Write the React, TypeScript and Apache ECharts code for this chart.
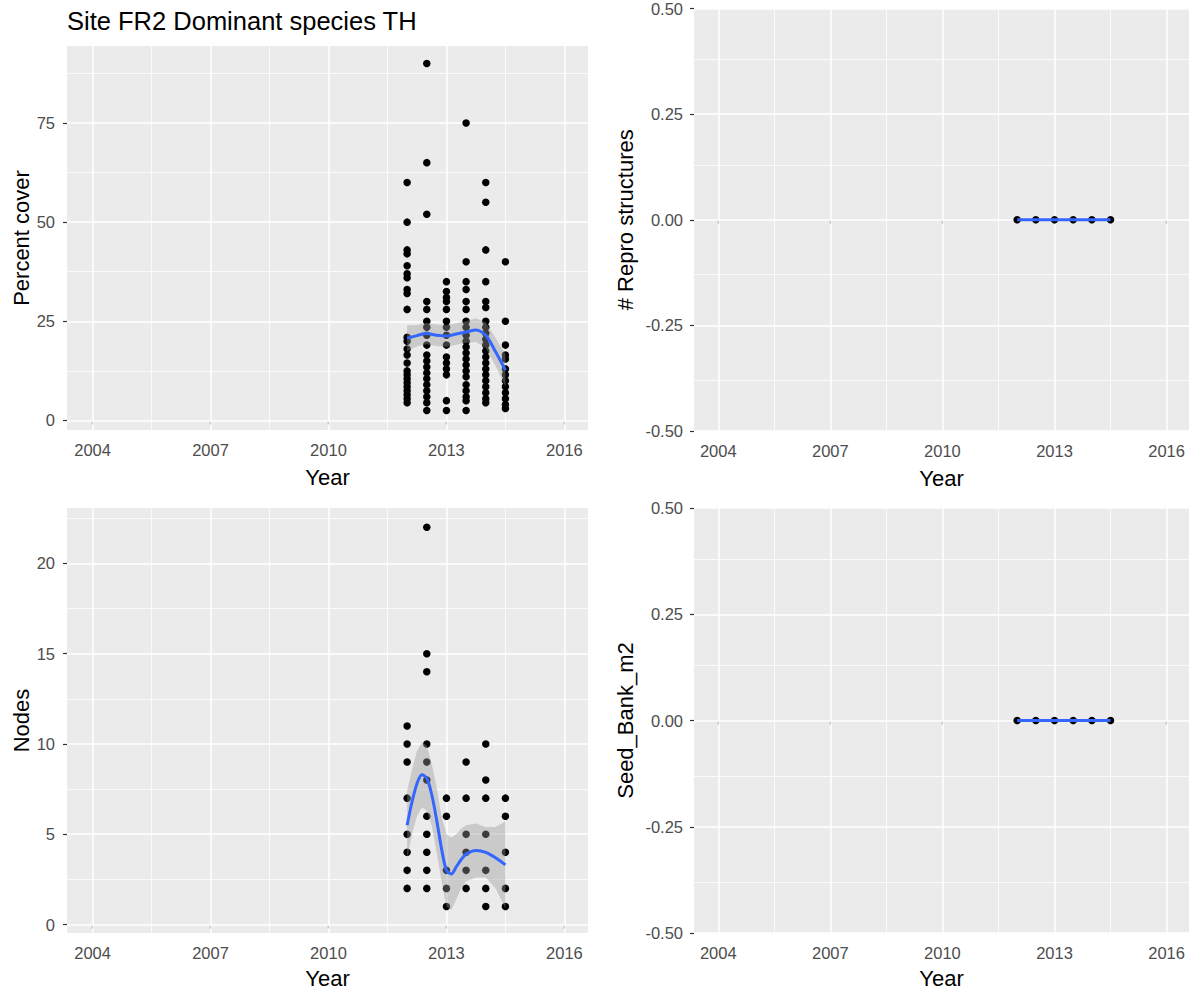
import React, { useEffect, useRef } from "react";
import * as echarts from "echarts";

// ---------- data ----------
const YEARS = [2012, 2012.5, 2013, 2013.5, 2014, 2014.5];
const X_TICKS = [2004, 2007, 2010, 2013, 2016];
const X_MINOR = [2005.5, 2008.5, 2011.5, 2014.5];

// Percent cover, one list per survey
const cover2012 = [60, 50, 43, 42, 39, 37, 36, 33, 32, 28, 21, 20, 18, 16.5, 14.5, 12.5, 11.5, 10.5, 9.5, 8.5, 7.5, 6.5, 5.5, 4.5];
const cover2012b = [90, 65, 52, 30, 28, 25, 23.5, 21.5, 19, 16.5, 15, 13.5, 12, 10.5, 9, 7.5, 6, 4.5, 2.5];
const cover2013 = [35, 32.5, 31, 30, 28, 25, 23.5, 21.5, 19, 16, 14.5, 13, 11.5, 5, 2.5];
const cover2013b = [75, 40, 35, 33, 30, 28, 25, 23.5, 21.5, 20, 18.5, 17, 15.5, 14, 12.5, 11, 9, 7.5, 6, 5, 2.5];
const cover2014 = [60, 55, 43, 35, 30, 28.5, 25, 23.5, 22, 20.5, 19, 17.5, 16, 14.5, 13, 11.5, 10, 8.5, 7, 5.5, 4.5];
const cover2014b = [40, 25, 19, 16.5, 15.5, 13, 11.5, 10, 8.5, 7, 5.5, 4, 3];
const COVER_COLUMNS = [cover2012, cover2012b, cover2013, cover2013b, cover2014, cover2014b];
const COVER_TICKS = [0, 25, 50, 75];
const COVER_MINOR = [12.5, 37.5, 62.5, 87.5];

// Loess fit for percent cover
const COVER_FIT_X = [2012, 2012.25, 2012.5, 2012.75, 2013, 2013.25, 2013.5, 2013.75, 2014, 2014.25, 2014.5];
const coverFit = [20.7, 21.4, 21.9, 21.5, 21.3, 21.8, 22.3, 22.8, 21.5, 17.3, 12.7];
const coverLo = [17.5, 18.7, 19.2, 18.8, 18.6, 19.1, 19.6, 19.8, 18.3, 13.8, 8.5];
const coverHi = [24.0, 24.1, 24.6, 24.2, 24.0, 24.5, 25.0, 25.8, 24.7, 20.8, 16.7];

// Nodes
const nodes2012 = [11, 10, 9, 7, 5, 4, 3, 2];
const nodes2012b = [22, 15, 14, 10, 9, 8, 6, 5, 4, 3, 2];
const nodes2013 = [7, 6, 3, 2, 1];
const nodes2013b = [9, 7, 5, 4, 3, 2];
const nodes2014 = [10, 8, 7, 5, 3, 2, 1];
const nodes2014b = [7, 6, 4, 2, 1];
const NODE_COLUMNS = [nodes2012, nodes2012b, nodes2013, nodes2013b, nodes2014, nodes2014b];
const NODE_TICKS = [0, 5, 10, 15, 20];
const NODE_MINOR = [2.5, 7.5, 12.5, 17.5, 22.5];

const NODE_FIT_X = [2012, 2012.125, 2012.25, 2012.375, 2012.5, 2012.625, 2012.75, 2012.875, 2013, 2013.125, 2013.25, 2013.375, 2013.5, 2013.75, 2014, 2014.25, 2014.5];
const nodeFit = [5.5, 6.8, 7.8, 8.3, 8.1, 7.2, 5.8, 4.2, 3.0, 2.8, 3.2, 3.6, 3.9, 4.1, 4.0, 3.7, 3.3];
const nodeLo = [3.6, 5.0, 6.0, 6.5, 6.3, 5.5, 4.0, 2.4, 1.0, 0.8, 1.4, 2.0, 2.4, 2.6, 2.6, 2.0, 0.9];
const nodeHi = [7.4, 8.6, 9.6, 10.1, 9.9, 8.9, 7.6, 6.0, 5.0, 4.8, 5.0, 5.3, 5.5, 5.6, 5.4, 5.4, 5.7];

// Repro structures and seed bank: all zero
const reproValues = [0, 0, 0, 0, 0, 0];
const seedValues = [0, 0, 0, 0, 0, 0];
const ZERO_TICKS = [-0.5, -0.25, 0, 0.25, 0.5];
const ZERO_MINOR = [-0.375, -0.125, 0.125, 0.375];

// ---------- styling ----------
const FONT = "'Liberation Sans', Arial, sans-serif";
const TICK_COLOR = "#4D4D4D";
const PANEL_BG = "#EBEBEB";
const BLUE = "#3366FF";
const TICK_FONT = 16.5;
const NAME_FONT = 22;

const GRIDS = [
  { left: 67, top: 46, width: 521, height: 384 },
  { left: 694, top: 8, width: 495, height: 423 },
  { left: 67, top: 508, width: 521, height: 425 },
  { left: 694, top: 508, width: 495, height: 425 },
];

function columnsToPoints(cols: number[][]) {
  const pts: number[][] = [];
  cols.forEach((col, i) => col.forEach((v) => pts.push([YEARS[i], v])));
  return pts;
}

function xAxisFor(gi: number, gap: number) {
  return {
    type: "value",
    gridIndex: gi,
    min: 2003.35,
    max: 2016.6,
    axisLine: { show: false },
    splitLine: { show: false },
    axisTick: { show: true, customValues: X_TICKS, length: 4, lineStyle: { color: "#333", width: 1.2 } },
    axisLabel: {
      customValues: X_TICKS,
      formatter: (v: number) => String(v),
      color: TICK_COLOR,
      fontSize: TICK_FONT,
      fontFamily: FONT,
      margin: 11,
    },
    name: "Year",
    nameLocation: "middle",
    nameGap: gap,
    nameTextStyle: { color: "#000", fontSize: NAME_FONT, fontFamily: FONT },
  };
}

function yAxisFor(gi: number, min: number, max: number, ticks: number[], name: string, gap: number, fmt: (v: number) => string, margin: number) {
  return {
    type: "value",
    gridIndex: gi,
    min,
    max,
    axisLine: { show: false },
    splitLine: { show: false },
    axisTick: { show: true, customValues: ticks, length: 4, lineStyle: { color: "#333", width: 1.2 } },
    axisLabel: { customValues: ticks, formatter: fmt, color: TICK_COLOR, fontSize: TICK_FONT, fontFamily: FONT, margin },
    name,
    nameLocation: "middle",
    nameGap: gap,
    nameTextStyle: { color: "#000", fontSize: NAME_FONT, fontFamily: FONT },
  };
}

function gridLines(gi: number, yMajor: number[], yMinor: number[]) {
  const major = { type: "solid", color: "#FFFFFF", width: 1.5 };
  const minor = { type: "solid", color: "#FFFFFF", width: 0.75 };
  const data: any[] = [];
  X_MINOR.forEach((v) => data.push({ xAxis: v, lineStyle: minor }));
  yMinor.forEach((v) => data.push({ yAxis: v, lineStyle: minor }));
  X_TICKS.forEach((v) => data.push({ xAxis: v, lineStyle: major }));
  yMajor.forEach((v) => data.push({ yAxis: v, lineStyle: major }));
  return {
    type: "line",
    xAxisIndex: gi,
    yAxisIndex: gi,
    data: [],
    silent: true,
    markLine: {
      z: 1,
      silent: true,
      symbol: "none",
      label: { show: false },
      emphasis: { disabled: true },
      animation: false,
      data,
    },
  };
}

function scatterFor(gi: number, pts: number[][]) {
  return {
    type: "scatter",
    xAxisIndex: gi,
    yAxisIndex: gi,
    data: pts,
    symbol: "circle",
    symbolSize: 7.5,
    itemStyle: { color: "#000", opacity: 1 },
    z: 2,
    silent: true,
  };
}

function ribbonFor(gi: number, xs: number[], lo: number[], hi: number[]) {
  return {
    type: "custom",
    xAxisIndex: gi,
    yAxisIndex: gi,
    z: 3,
    silent: true,
    data: [[xs[0], lo[0]]],
    encode: { x: 0, y: 1 },
    renderItem: (params: any, api: any) => {
      if (params.dataIndex !== 0) return null;
      const pts: number[][] = [];
      xs.forEach((x, i) => pts.push(api.coord([x, hi[i]])));
      for (let i = xs.length - 1; i >= 0; i--) pts.push(api.coord([xs[i], lo[i]]));
      return { type: "polygon", shape: { points: pts }, style: { fill: "rgba(153,153,153,0.4)" } };
    },
  };
}

function fitLineFor(gi: number, xs: number[], ys: number[], smooth: number) {
  return {
    type: "line",
    xAxisIndex: gi,
    yAxisIndex: gi,
    data: xs.map((x, i) => [x, ys[i]]),
    showSymbol: false,
    smooth,
    lineStyle: { color: BLUE, width: 3 },
    z: 4,
    silent: true,
  };
}

const fmtInt = (v: number) => String(v);
const fmt2 = (v: number) => v.toFixed(2);

function buildOption() {
  return {
    animation: false,
    backgroundColor: "#FFFFFF",
    textStyle: { fontFamily: FONT },
    title: {
      text: "Site FR2 Dominant species TH",
      left: 67,
      top: 8,
      padding: 0,
      textStyle: { color: "#000", fontSize: 25.5, fontWeight: "normal", fontFamily: FONT },
    },
    grid: GRIDS.map((g) => ({ ...g, show: true, backgroundColor: PANEL_BG, borderWidth: 0, containLabel: false })),
    xAxis: [xAxisFor(0, 36), xAxisFor(1, 36), xAxisFor(2, 34), xAxisFor(3, 34)],
    yAxis: [
      yAxisFor(0, -2.4, 94.4, COVER_TICKS, "Percent cover", 34, fmtInt, 12),
      yAxisFor(1, -0.5, 0.5, ZERO_TICKS, "# Repro structures", 58, fmt2, 11),
      yAxisFor(2, -0.47, 23.07, NODE_TICKS, "Nodes", 34, fmtInt, 12),
      yAxisFor(3, -0.5, 0.5, ZERO_TICKS, "Seed_Bank_m2", 58, fmt2, 11),
    ],
    series: [
      gridLines(0, COVER_TICKS, COVER_MINOR),
      gridLines(1, ZERO_TICKS, ZERO_MINOR),
      gridLines(2, NODE_TICKS, NODE_MINOR),
      gridLines(3, ZERO_TICKS, ZERO_MINOR),
      scatterFor(0, columnsToPoints(COVER_COLUMNS)),
      ribbonFor(0, COVER_FIT_X, coverLo, coverHi),
      fitLineFor(0, COVER_FIT_X, coverFit, 0.3),
      scatterFor(1, YEARS.map((x, i) => [x, reproValues[i]])),
      fitLineFor(1, YEARS, reproValues, 0),
      scatterFor(2, columnsToPoints(NODE_COLUMNS)),
      ribbonFor(2, NODE_FIT_X, nodeLo, nodeHi),
      fitLineFor(2, NODE_FIT_X, nodeFit, 0.3),
      scatterFor(3, YEARS.map((x, i) => [x, seedValues[i]])),
      fitLineFor(3, YEARS, seedValues, 0),
    ],
  };
}

export default function App() {
  const ref = useRef<HTMLDivElement>(null);
  useEffect(() => {
    if (!ref.current) return;
    const chart = echarts.init(ref.current, null, { renderer: "svg" });
    chart.setOption(buildOption() as any);
    return () => chart.dispose();
  }, []);
  return (
    <div
      ref={ref}
      style={{ position: "absolute", left: 0, top: 0, width: 1197, height: 996, background: "#fff" }}
    />
  );
}
